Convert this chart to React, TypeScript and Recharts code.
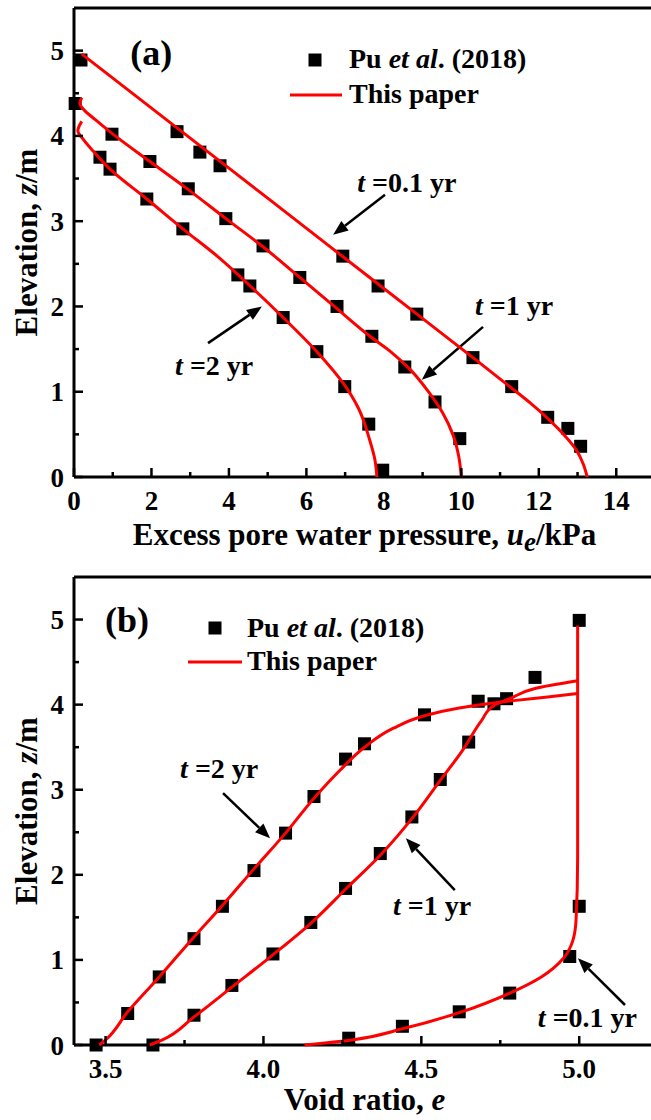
import {
  ComposedChart,
  XAxis,
  YAxis,
  Line,
  Scatter,
  ReferenceLine,
  ReferenceDot,
  Legend,
} from 'recharts'

const SERIF = '"Liberation Serif", "Times New Roman", Times, serif'
const RED = '#ff0000'

// axis ticks (majors get labels)
const pressureTicks = [0, 1, 2, 3, 4, 5, 6, 7, 8, 9, 10, 11, 12, 13, 14]
const elevationTicks = [0, 0.5, 1, 1.5, 2, 2.5, 3, 3.5, 4, 4.5, 5]
const voidTicks = [3.5, 3.75, 4, 4.25, 4.5, 4.75, 5]

// (a) Pu et al. (2018), [u_e kPa, z m]
const puPressure01 = [[0.18, 4.89], [2.66, 4.05], [3.25, 3.81], [3.77, 3.65], [6.94, 2.59], [7.85, 2.24], [8.85, 1.91], [10.3, 1.4], [11.3, 1.06], [12.23, 0.7], [12.75, 0.57], [13.08, 0.36]]
const puPressure1 = [[0.03, 4.38], [0.98, 4.02], [1.96, 3.7], [2.95, 3.38], [3.92, 3.03], [4.88, 2.71], [5.83, 2.34], [6.79, 2.0], [7.69, 1.65], [8.54, 1.29], [9.32, 0.88], [9.96, 0.45]]
const puPressure2 = [[0.67, 3.75], [0.93, 3.61], [1.88, 3.26], [2.81, 2.91], [4.23, 2.37], [4.54, 2.24], [5.4, 1.87], [6.27, 1.47], [6.99, 1.06], [7.61, 0.62], [7.97, 0.08]]

// (a) this paper, [u_e kPa, z m], bottom to top
const pressure01 = [[13.25, 0], [13.15, 0.15], [12.95, 0.33], [12.6, 0.52], [12.2, 0.7], [11.8, 0.86], [11.25, 1.06], [10.3, 1.4], [8.0, 2.21], [5.0, 3.27], [2.5, 4.15], [0.2, 4.96]]
const pressure1 = [[10.0, 0], [9.93, 0.25], [9.78, 0.5], [9.52, 0.75], [9.15, 1.0], [8.7, 1.25], [8.15, 1.48], [7.64, 1.65], [6.72, 2.0], [5.83, 2.34], [4.88, 2.7], [3.92, 3.03], [2.95, 3.37], [1.96, 3.7], [0.98, 4.03], [0.55, 4.19], [0.25, 4.31], [0.15, 4.38], [0.2, 4.45]]
const pressure2 = [[7.82, 0], [7.77, 0.2], [7.63, 0.44], [7.35, 0.8], [6.95, 1.1], [6.27, 1.47], [5.4, 1.87], [4.55, 2.24], [3.75, 2.57], [2.81, 2.91], [1.88, 3.26], [0.93, 3.61], [0.5, 3.82], [0.24, 3.96], [0.1, 4.06], [0.2, 4.17]]

// (b) Pu et al. (2018), [e, z m]
const puVoid01 = [[4.27, 0.08], [4.44, 0.22], [4.62, 0.39], [4.78, 0.61], [4.97, 1.04], [5.0, 1.63], [5.0, 4.99]]
const puVoid1 = [[3.65, 0], [3.78, 0.35], [3.9, 0.7], [4.03, 1.07], [4.15, 1.44], [4.26, 1.84], [4.37, 2.25], [4.47, 2.68], [4.56, 3.12], [4.65, 3.56], [4.73, 4.01], [4.77, 4.07], [4.86, 4.32]]
const puVoid2 = [[3.47, 0], [3.57, 0.37], [3.67, 0.8], [3.78, 1.25], [3.87, 1.63], [3.97, 2.05], [4.07, 2.49], [4.16, 2.92], [4.26, 3.36], [4.32, 3.54], [4.51, 3.88], [4.68, 4.04]]

// (b) this paper, [e, z m], bottom to top
const void01 = [[4.13, 0], [4.28, 0.06], [4.44, 0.19], [4.62, 0.38], [4.78, 0.61], [4.88, 0.8], [4.95, 1.02], [4.98, 1.23], [4.99, 1.47], [4.995, 2.2], [4.995, 4.93]]
const void1 = [[3.64, 0], [3.68, 0.06], [3.78, 0.33], [3.9, 0.68], [4.03, 1.06], [4.15, 1.43], [4.26, 1.83], [4.37, 2.23], [4.47, 2.66], [4.56, 3.11], [4.63, 3.46], [4.69, 3.81], [4.73, 3.99], [4.78, 4.07], [4.86, 4.19], [4.995, 4.28]]
const void2 = [[3.48, 0], [3.5, 0.06], [3.57, 0.39], [3.67, 0.8], [3.78, 1.27], [3.87, 1.64], [3.97, 2.07], [4.07, 2.49], [4.16, 2.9], [4.24, 3.22], [4.32, 3.5], [4.41, 3.72], [4.51, 3.87], [4.62, 3.96], [4.71, 4.01], [4.8, 4.05], [4.9, 4.09], [4.995, 4.13]]

// time labels: text anchor, arrow tail -> head (data units)
const pressureNotes = [
  { t: '0.1', at: [7.31, 3.34], tail: [8.03, 3.31], head: [6.69, 2.84] },
  { t: '1', at: [10.35, 1.9], tail: [10.56, 1.76], head: [8.98, 1.14] },
  { t: '2', at: [2.61, 1.2], tail: [3.46, 1.57], head: [4.85, 2.0] },
]
const voidNotes = [
  { t: '2', at: [3.736, 3.14], tail: [3.872, 2.96], head: [4.021, 2.43] },
  { t: '1', at: [4.41, 1.53], tail: [4.606, 1.82], head: [4.451, 2.43] },
  { t: '0.1', at: [4.869, 0.21], tail: [5.145, 0.47], head: [4.996, 1.02] },
]

const rows = (r: number[][]) => r.map(([x, z]) => ({ x, z }))

const isWhole = (v: number) => Math.abs(v - Math.round(v)) < 1e-6
const isEven = (v: number) => isWhole(v / 2)
const isHalf = (v: number) => isWhole(v * 2)

const tickFont = { fontFamily: SERIF, fontWeight: 'bold', fontSize: 27, fill: '#000' } as const

type Side = 'bottom' | 'top' | 'left' | 'right'

// inward tick marks, labels only on majors
const tickFn =
  (side: Side, major: (v: number) => boolean, label?: (v: number) => string) =>
  (props: any) => {
    const { x, y, payload } = props
    const v: number = payload.value
    const len = major(v) ? 9 : 5
    const end = {
      bottom: [x, y - len],
      top: [x, y + len],
      left: [x + len, y],
      right: [x - len, y],
    }[side]
    return (
      <g>
        <line x1={x} y1={y} x2={end[0]} y2={end[1]} stroke="#000" strokeWidth={2.5} />
        {label && major(v) && side === 'bottom' && (
          <text x={x} y={y + 33} textAnchor="middle" {...tickFont}>
            {label(v)}
          </text>
        )}
        {label && major(v) && side === 'left' && (
          <text x={x - 10} y={y + 9.5} textAnchor="end" {...tickFont}>
            {label(v)}
          </text>
        )}
      </g>
    )
  }

const titleFont = { fontFamily: SERIF, fontWeight: 'bold', fontSize: 31, fill: '#000' } as const

const ElevationTitle = ({ viewBox }: any) => (
  <text
    transform={`translate(${viewBox.x + 37}, ${viewBox.y + viewBox.height / 2}) rotate(-90)`}
    textAnchor="middle"
    {...titleFont}
  >
    Elevation, <tspan fontStyle="italic">z</tspan>/m
  </text>
)

const PressureTitle = ({ viewBox }: any) => (
  <text x={viewBox.x + viewBox.width / 2} y={viewBox.y + 68} textAnchor="middle" {...titleFont}>
    Excess pore water pressure, <tspan fontStyle="italic">u</tspan>
    <tspan fontStyle="italic" fontSize={27} dy={6}>e</tspan>
    <tspan dy={-6}>/kPa</tspan>
  </text>
)

const VoidTitle = ({ viewBox }: any) => (
  <text x={viewBox.x + viewBox.width / 2} y={viewBox.y + 65} textAnchor="middle" {...titleFont}>
    Void ratio, <tspan fontStyle="italic">e</tspan>
  </text>
)

const arrowShape = (p: any) => {
  const { x1, y1, x2, y2 } = p
  const a = Math.atan2(y2 - y1, x2 - x1)
  const L = 15
  const W = 6
  const bx = x2 - L * Math.cos(a)
  const by = y2 - L * Math.sin(a)
  const nx = -Math.sin(a) * W
  const ny = Math.cos(a) * W
  return (
    <g>
      <line x1={x1} y1={y1} x2={bx} y2={by} stroke="#000" strokeWidth={2.5} />
      <polygon points={`${x2},${y2} ${bx + nx},${by + ny} ${bx - nx},${by - ny}`} fill="#000" />
    </g>
  )
}

const noteFont = { fontFamily: SERIF, fontWeight: 'bold', fontSize: 28, fill: '#000' } as const

const timeTag = (t: string) => (p: any) => (
  <text x={p.cx} y={p.cy} {...noteFont}>
    <tspan fontStyle="italic">t</tspan>
    {' ='}
    {t}
    {' yr'}
  </text>
)

const panelTag = (s: string) => (p: any) => (
  <text x={p.cx} y={p.cy} fontFamily={SERIF} fontWeight="bold" fontSize={36} fill="#000">
    {s}
  </text>
)

const square = (p: any) => <rect x={p.cx - 6.5} y={p.cy - 6.5} width={13} height={13} fill="#000" />

const keyFont = { fontFamily: SERIF, fontWeight: 'bold', fontSize: 28, fill: '#000' } as const

const keyBox = (sq: [number, number], ln: [number, number, number], tx: number, b1: number, b2: number) => () => (
  <svg width={280} height={80} style={{ display: 'block', overflow: 'visible' }}>
    <rect x={sq[0] - 6.5} y={sq[1] - 6.5} width={13} height={13} fill="#000" />
    <line x1={ln[0]} x2={ln[1]} y1={ln[2]} y2={ln[2]} stroke={RED} strokeWidth={3} />
    <text x={tx} y={b1} {...keyFont}>
      Pu <tspan fontStyle="italic">et al</tspan>. (2018)
    </text>
    <text x={tx} y={b2} {...keyFont}>
      This paper
    </text>
  </svg>
)

const notes = (list: typeof pressureNotes) =>
  list.flatMap((n, i) => [
    <ReferenceLine
      key={`arrow-${i}`}
      xAxisId="b"
      yAxisId="l"
      segment={[
        { x: n.tail[0], y: n.tail[1] },
        { x: n.head[0], y: n.head[1] },
      ]}
      shape={arrowShape}
    />,
    <ReferenceDot key={`tag-${i}`} xAxisId="b" yAxisId="l" x={n.at[0]} y={n.at[1]} r={0} shape={timeTag(n.t)} />,
  ])

const curve = (key: string, data: number[][]) => (
  <Line
    key={key}
    xAxisId="b"
    yAxisId="l"
    data={rows(data)}
    dataKey="z"
    type="monotoneY"
    stroke={RED}
    strokeWidth={3}
    dot={false}
    activeDot={false}
    isAnimationActive={false}
    zIndex={700}
  />
)

const points = (key: string, data: number[][]) => (
  <Scatter key={key} xAxisId="b" yAxisId="l" data={rows(data)} shape={square} isAnimationActive={false} />
)

function PressurePanel() {
  return (
    <ComposedChart width={670} height={560} margin={{ top: 7, right: 14, bottom: 0, left: 0 }}>
      <XAxis
        xAxisId="b"
        dataKey="x"
        type="number"
        domain={[0, 15]}
        ticks={pressureTicks}
        interval={0}
        height={83}
        tickSize={0}
        tickMargin={0}
        axisLine={{ stroke: '#000', strokeWidth: 3 }}
        tick={tickFn('bottom', isEven, (v) => String(v))}
        label={<PressureTitle />}
      />
      <XAxis
        xAxisId="t"
        orientation="top"
        type="number"
        domain={[0, 15]}
        ticks={pressureTicks}
        interval={0}
        height={1}
        tickSize={0}
        tickMargin={0}
        axisLine={{ stroke: '#000', strokeWidth: 3 }}
        tick={tickFn('top', isEven)}
      />
      <YAxis
        yAxisId="l"
        dataKey="z"
        type="number"
        domain={[0, 5.5]}
        ticks={elevationTicks}
        interval={0}
        width={74}
        tickSize={0}
        tickMargin={0}
        axisLine={{ stroke: '#000', strokeWidth: 3 }}
        tick={tickFn('left', isWhole, (v) => String(v))}
        label={<ElevationTitle />}
      />
      <YAxis
        yAxisId="r"
        orientation="right"
        type="number"
        domain={[0, 5.5]}
        ticks={elevationTicks}
        interval={0}
        width={1}
        tickSize={0}
        tickMargin={0}
        axisLine={{ stroke: '#000', strokeWidth: 3 }}
        tick={tickFn('right', isWhole)}
      />
      <Legend
        layout="horizontal"
        align="center"
        verticalAlign="middle"
        wrapperStyle={{ left: 280, top: 40, width: 280, height: 80 }}
        content={keyBox([35, 20], [10, 62, 55], 69, 28, 63)}
      />
      {points('pa01', puPressure01)}
      {points('pa1', puPressure1)}
      {points('pa2', puPressure2)}
      {curve('ca01', pressure01)}
      {curve('ca1', pressure1)}
      {curve('ca2', pressure2)}
      {notes(pressureNotes)}
      <ReferenceDot xAxisId="b" yAxisId="l" x={1.45} y={4.83} r={0} shape={panelTag('(a)')} />
    </ComposedChart>
  )
}

function VoidPanel() {
  return (
    <ComposedChart width={670} height={560} margin={{ top: 16, right: 14, bottom: 0, left: 0 }}>
      <XAxis
        xAxisId="b"
        dataKey="x"
        type="number"
        domain={[3.4, 5.24]}
        ticks={voidTicks}
        interval={0}
        height={75}
        tickSize={0}
        tickMargin={0}
        axisLine={{ stroke: '#000', strokeWidth: 3 }}
        tick={tickFn('bottom', isHalf, (v) => v.toFixed(1))}
        label={<VoidTitle />}
      />
      <XAxis
        xAxisId="t"
        orientation="top"
        type="number"
        domain={[3.4, 5.24]}
        ticks={voidTicks}
        interval={0}
        height={1}
        tickSize={0}
        tickMargin={0}
        axisLine={{ stroke: '#000', strokeWidth: 3 }}
        tick={tickFn('top', isHalf)}
      />
      <YAxis
        yAxisId="l"
        dataKey="z"
        type="number"
        domain={[0, 5.5]}
        ticks={elevationTicks}
        interval={0}
        width={74}
        tickSize={0}
        tickMargin={0}
        axisLine={{ stroke: '#000', strokeWidth: 3 }}
        tick={tickFn('left', isWhole, (v) => String(v))}
        label={<ElevationTitle />}
      />
      <YAxis
        yAxisId="r"
        orientation="right"
        type="number"
        domain={[0, 5.5]}
        ticks={elevationTicks}
        interval={0}
        width={1}
        tickSize={0}
        tickMargin={0}
        axisLine={{ stroke: '#000', strokeWidth: 3 }}
        tick={tickFn('right', isWhole)}
      />
      <Legend
        layout="horizontal"
        align="center"
        verticalAlign="middle"
        wrapperStyle={{ left: 180, top: 40, width: 280, height: 80 }}
        content={keyBox([35, 28], [8, 62, 62], 67, 37, 70)}
      />
      {points('pb01', puVoid01)}
      {points('pb1', puVoid1)}
      {points('pb2', puVoid2)}
      {curve('cb01', void01)}
      {curve('cb1', void1)}
      {curve('cb2', void2)}
      {notes(voidNotes)}
      <ReferenceDot xAxisId="b" yAxisId="l" x={3.498} y={4.854} r={0} shape={panelTag('(b)')} />
    </ComposedChart>
  )
}

export default function App() {
  return (
    <div style={{ width: 651, height: 1120, overflow: 'hidden', position: 'relative', background: '#fff' }}>
      <style>{'body{margin:0}'}</style>
      <PressurePanel />
      <VoidPanel />
    </div>
  )
}
